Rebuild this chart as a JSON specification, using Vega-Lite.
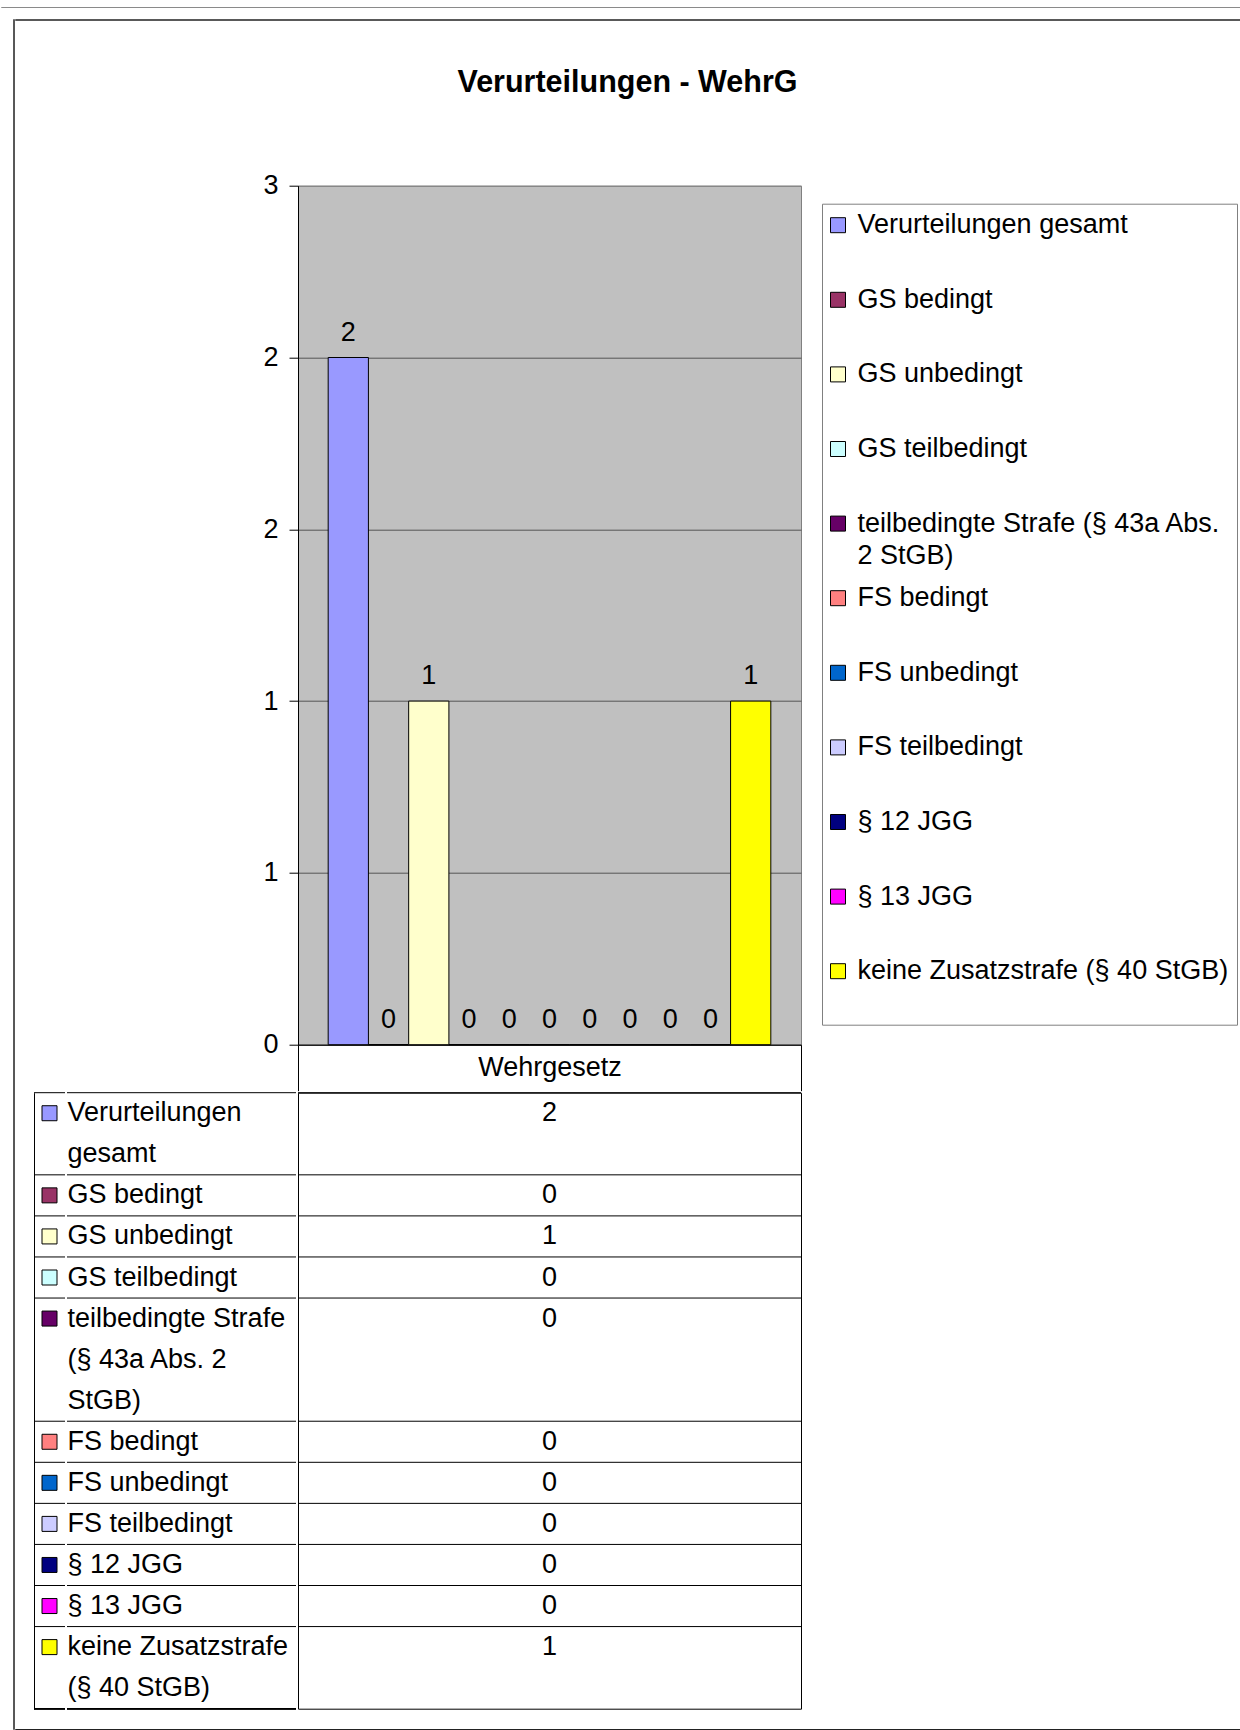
{
  "$schema": "https://vega.github.io/schema/vega-lite/v6.json",
  "background": "white",
  "padding": {"left": 0, "top": 6, "right": 0, "bottom": 0},
  "datasets": {
    "series": [
      {"category": "Wehrgesetz", "series": "Verurteilungen gesamt", "value": 2, "tableLines": ["Verurteilungen", "gesamt"]},
      {"category": "Wehrgesetz", "series": "GS bedingt", "value": 0, "tableLines": ["GS bedingt"]},
      {"category": "Wehrgesetz", "series": "GS unbedingt", "value": 1, "tableLines": ["GS unbedingt"]},
      {"category": "Wehrgesetz", "series": "GS teilbedingt", "value": 0, "tableLines": ["GS teilbedingt"]},
      {"category": "Wehrgesetz", "series": "teilbedingte Strafe (§ 43a Abs. 2 StGB)", "value": 0, "tableLines": ["teilbedingte Strafe", "(§ 43a Abs. 2", "StGB)"]},
      {"category": "Wehrgesetz", "series": "FS bedingt", "value": 0, "tableLines": ["FS bedingt"]},
      {"category": "Wehrgesetz", "series": "FS unbedingt", "value": 0, "tableLines": ["FS unbedingt"]},
      {"category": "Wehrgesetz", "series": "FS teilbedingt", "value": 0, "tableLines": ["FS teilbedingt"]},
      {"category": "Wehrgesetz", "series": "§ 12 JGG", "value": 0, "tableLines": ["§ 12 JGG"]},
      {"category": "Wehrgesetz", "series": "§ 13 JGG", "value": 0, "tableLines": ["§ 13 JGG"]},
      {"category": "Wehrgesetz", "series": "keine Zusatzstrafe (§ 40 StGB)", "value": 1, "tableLines": ["keine Zusatzstrafe", "(§ 40 StGB)"]}
    ]
  },
  "config": {
    "font": "Liberation Sans",
    "view": {"stroke": null},
    "style": {"guide-label": {"lineHeight": 32}},
    "axis": {"labelColor": "black", "labelFontSize": 27, "domainColor": "black", "tickColor": "black", "labelFont": "Liberation Sans"},
    "text": {"fontSize": 27, "color": "black"}
  },
  "spacing": 11,
  "vconcat": [
    {
      "width": 1240,
      "height": 0.01,
      "data": {"values": []},
      "mark": {"type": "point", "opacity": 0},
      "view": {"stroke": "#8a8a8a", "strokeWidth": 1}
    },
    {
      "spacing": 0,
      "hconcat": [
        {
          "width": 12,
          "height": 1,
          "data": {"values": []},
          "mark": {"type": "point", "opacity": 0},
          "view": {"fill": "white"}
        },
        {
          "width": 0.01,
          "height": 1709,
          "data": {"values": []},
          "mark": {"type": "point", "opacity": 0},
          "view": {"stroke": "#222222", "strokeWidth": 1.5}
        },
        {
          "spacing": 46.7,
          "vconcat": [
            {
              "width": 1227,
              "height": 0.01,
              "data": {"values": []},
              "mark": {"type": "point", "opacity": 0},
              "view": {"stroke": "#222222", "strokeWidth": 1.5}
            },
            {
              "spacing": 19,
              "vconcat": [
                {
                  "spacing": 0,
                  "resolve": {"scale": {"color": "independent"}, "legend": {"color": "independent"}},
                  "vconcat": [
                    {
                      "spacing": 0,
                      "resolve": {"scale": {"color": "independent"}, "legend": {"color": "independent"}},
                      "hconcat": [
                        {
                          "width": 240.7,
                          "height": 1,
                          "data": {"values": []},
                          "mark": {"type": "point", "opacity": 0},
                          "view": {"fill": "white"}
                        },
                        {
                          "width": 503,
                          "height": 859,
                          "data": {"name": "series"},
                          "view": {"fill": "#C0C0C0", "stroke": "#808080", "strokeWidth": 1},
                          "title": {"text": "Verurteilungen - WehrG", "fontSize": 30.5, "fontWeight": "bold", "anchor": "middle", "frame": "group", "dx": 78, "offset": 73, "color": "black"},
                          "encoding": {
                            "x": {
                              "field": "category", "type": "nominal",
                              "scale": {"paddingInner": 0, "paddingOuter": 0},
                              "axis": {"title": null, "tickBand": "extent", "tickSize": 46, "labelPadding": -23, "labelBaseline": "middle", "labelAngle": 0, "labelFontSize": 27, "domainColor": "black", "tickColor": "black", "grid": false}
                            },
                            "xOffset": {"field": "series", "type": "nominal", "sort": null, "scale": {"paddingInner": 0, "paddingOuter": 0.75}},
                            "y": {
                              "field": "value", "type": "quantitative",
                              "scale": {"domain": [0, 2.5], "nice": false},
                              "axis": {
                                "values": [0, 0.5, 1, 1.5, 2, 2.5],
                                "labelExpr": "format(round(datum.value), 'd')",
                                "title": null,
                                "grid": true,
                                "gridColor": {"condition": {"test": "datum.value == 2.5", "value": "#808080"}, "value": "#555555"},
                                "tickSize": 9,
                                "labelPadding": 11,
                                "minExtent": 40,
                                "maxExtent": 40,
                                "domainColor": "black",
                                "labelFontSize": 27
                              }
                            }
                          },
                          "layer": [
                            {
                              "mark": {"type": "bar", "stroke": "black", "strokeWidth": 1},
                              "encoding": {
                                "color": {
                                  "field": "series", "type": "nominal",
                                  "scale": {
                                    "domain": ["Verurteilungen gesamt", "GS bedingt", "GS unbedingt", "GS teilbedingt", "teilbedingte Strafe (§ 43a Abs. 2 StGB)", "FS bedingt", "FS unbedingt", "FS teilbedingt", "§ 12 JGG", "§ 13 JGG", "keine Zusatzstrafe (§ 40 StGB)"],
                                    "range": ["#9999FF", "#993366", "#FFFFCC", "#CCFFFF", "#660066", "#FF8080", "#0066CC", "#CCCCFF", "#000080", "#FF00FF", "#FFFF00"]
                                  },
                                  "legend": {
                                    "orient": "none", "legendX": 524, "legendY": 18, "title": null,
                                    "symbolType": "square", "symbolSize": 225, "symbolStrokeColor": "black", "symbolStrokeWidth": 1, "symbolOffset": -5.5,
                                    "labelFontSize": 27, "labelColor": "black", "labelLimit": 420, "labelOffset": 6,
                                    "rowPadding": 14.6, "padding": 8, "strokeColor": "#808080", "fillColor": "white",
                                    "labelExpr": "datum.label == 'teilbedingte Strafe (§ 43a Abs. 2 StGB)' ? ['teilbedingte Strafe (§ 43a Abs.', '2 StGB)'] : [datum.label, '']"
                                  }
                                }
                              }
                            },
                            {
                              "mark": {"type": "text", "baseline": "alphabetic", "dy": -17, "fontSize": 27, "color": "black"},
                              "encoding": {"text": {"field": "value", "type": "quantitative"}}
                            }
                          ]
                        }
                      ]
                    },
                    {
                      "spacing": 0,
                      "hconcat": [
                        {
                          "width": 16.5,
                          "height": 1,
                          "data": {"values": []},
                          "mark": {"type": "point", "opacity": 0},
                          "view": {"fill": "white"}
                        },
                        {
                          "width": 31,
                          "height": 616,
                          "data": {"name": "series"},
                          "layer": [
                            {
                              "mark": {"type": "rule", "color": "black", "strokeWidth": 1},
                              "encoding": {
                                "y": {
                                  "field": "tableLines[0]", "type": "nominal", "bandPosition": 0,
                                  "scale": {"domain": ["Verurteilungen", "gesamt", "GS bedingt", "GS unbedingt", "GS teilbedingt", "teilbedingte Strafe", "(§ 43a Abs. 2", "StGB)", "FS bedingt", "FS unbedingt", "FS teilbedingt", "§ 12 JGG", "§ 13 JGG", "keine Zusatzstrafe", "(§ 40 StGB)"], "paddingInner": 0, "paddingOuter": 0},
                                  "axis": {"orient": "left", "labels": false, "ticks": false, "domain": true, "domainColor": "black", "title": null, "grid": false}
                                }
                              }
                            },
                            {
                              "mark": {"type": "rule", "color": "black", "strokeWidth": 1},
                              "encoding": {"y": {"datum": "(§ 40 StGB)", "type": "nominal", "bandPosition": 1}}
                            },
                            {
                              "mark": {"type": "point", "shape": "square", "filled": true, "size": 225, "stroke": "black", "strokeWidth": 1, "opacity": 1},
                              "encoding": {
                                "y": {"field": "tableLines[0]", "type": "nominal"},
                                "fill": {
                                  "field": "series", "type": "nominal", "legend": null,
                                  "scale": {
                                    "domain": ["Verurteilungen gesamt", "GS bedingt", "GS unbedingt", "GS teilbedingt", "teilbedingte Strafe (§ 43a Abs. 2 StGB)", "FS bedingt", "FS unbedingt", "FS teilbedingt", "§ 12 JGG", "§ 13 JGG", "keine Zusatzstrafe (§ 40 StGB)"],
                                    "range": ["#9999FF", "#993366", "#FFFFCC", "#CCFFFF", "#660066", "#FF8080", "#0066CC", "#CCCCFF", "#000080", "#FF00FF", "#FFFF00"]
                                  }
                                }
                              }
                            }
                          ]
                        },
                        {
                          "width": 229,
                          "height": 616,
                          "data": {"name": "series"},
                          "layer": [
                            {
                              "mark": {"type": "rule", "color": "black", "strokeWidth": 1},
                              "encoding": {
                                "y": {
                                  "field": "tableLines[0]", "type": "nominal", "bandPosition": 0,
                                  "scale": {"domain": ["Verurteilungen", "gesamt", "GS bedingt", "GS unbedingt", "GS teilbedingt", "teilbedingte Strafe", "(§ 43a Abs. 2", "StGB)", "FS bedingt", "FS unbedingt", "FS teilbedingt", "§ 12 JGG", "§ 13 JGG", "keine Zusatzstrafe", "(§ 40 StGB)"], "paddingInner": 0, "paddingOuter": 0},
                                  "axis": {"orient": "left", "domain": false, "ticks": false, "tickSize": 0, "labelPadding": 0, "labelAlign": "left", "labelFontSize": 27, "labelLimit": 300, "labelOverlap": false, "title": null, "grid": false}
                                }
                              }
                            },
                            {
                              "mark": {"type": "rule", "color": "black", "strokeWidth": 1},
                              "encoding": {"y": {"datum": "(§ 40 StGB)", "type": "nominal", "bandPosition": 1}}
                            }
                          ]
                        },
                        {
                          "width": 503,
                          "height": 616,
                          "data": {"name": "series"},
                          "view": {"stroke": "black", "strokeWidth": 1},
                          "layer": [
                            {
                              "mark": {"type": "rule", "color": "black", "strokeWidth": 1},
                              "encoding": {
                                "y": {
                                  "field": "tableLines[0]", "type": "nominal", "bandPosition": 0,
                                  "scale": {"domain": ["Verurteilungen", "gesamt", "GS bedingt", "GS unbedingt", "GS teilbedingt", "teilbedingte Strafe", "(§ 43a Abs. 2", "StGB)", "FS bedingt", "FS unbedingt", "FS teilbedingt", "§ 12 JGG", "§ 13 JGG", "keine Zusatzstrafe", "(§ 40 StGB)"], "paddingInner": 0, "paddingOuter": 0},
                                  "axis": null
                                }
                              }
                            },
                            {
                              "mark": {"type": "text", "fontSize": 27, "baseline": "middle", "color": "black"},
                              "encoding": {
                                "y": {"field": "tableLines[0]", "type": "nominal", "axis": null},
                                "text": {"field": "value", "type": "quantitative"}
                              }
                            }
                          ]
                        }
                      ]
                    }
                  ]
                },
                {
                  "width": 1227,
                  "height": 0.01,
                  "data": {"values": []},
                  "mark": {"type": "point", "opacity": 0},
                  "view": {"stroke": "#222222", "strokeWidth": 1.5}
                }
              ]
            }
          ]
        }
      ]
    }
  ]
}
